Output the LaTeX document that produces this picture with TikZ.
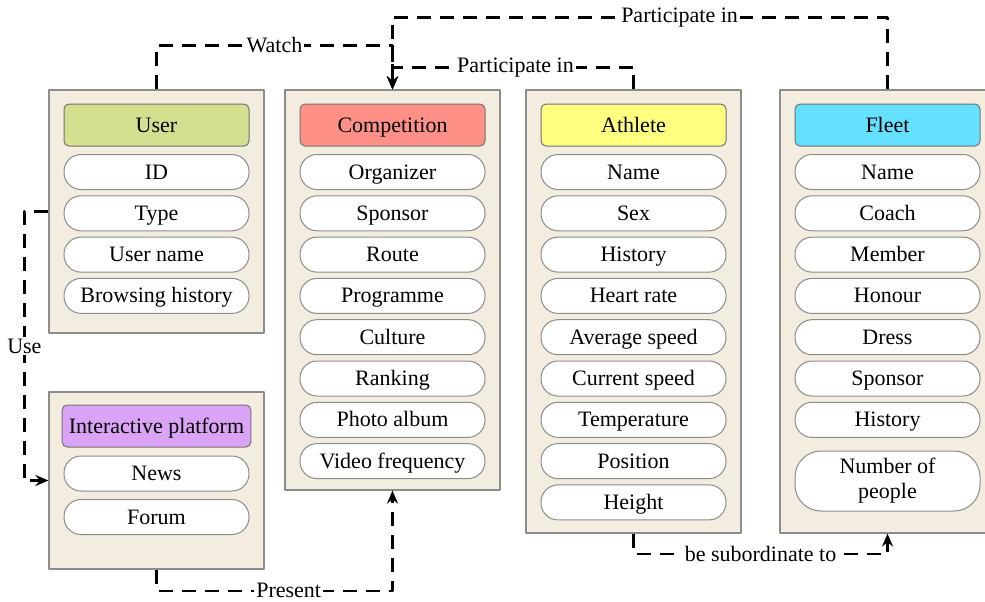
\documentclass[tikz,border=0pt]{standalone}
\usepackage{fontspec}
\setmainfont{LiberationSerif}[Extension=.ttf,UprightFont=*-Regular,BoldFont=*-Bold]
\usetikzlibrary{arrows.meta}
\definecolor{panelbg}{RGB}{242,237,222}
\definecolor{usercol}{RGB}{212,224,143}
\definecolor{compcol}{RGB}{255,144,136}
\definecolor{athcol}{RGB}{255,255,128}
\definecolor{fleetcol}{RGB}{102,224,255}
\definecolor{platcol}{RGB}{218,163,245}
\newcommand{\txt}{\fontsize{11}{12.5}\selectfont}
\begin{document}
\begin{tikzpicture}[x=0.5pt,y=-0.5pt,line join=round,>={Stealth[length=6.5pt,width=5.5pt,inset=2.2pt]},
	panel/.style={draw=black!45,fill=panelbg,line width=0.6pt,minimum width=107.5pt},
	head/.style={draw=black!55,rounded corners=2.5pt,line width=0.5pt,minimum width=92.5pt,minimum height=21pt,font=\txt,text height=8pt,text depth=1pt},
	item/.style={draw=black!45,fill=white,line width=0.5pt,rounded corners=8.5pt,minimum width=92.5pt,minimum height=17.5pt,font=\txt,text height=8pt,text depth=1pt},
	link/.style={line width=1.1pt,dash pattern=on 7pt off 4.5pt},
	lbl/.style={fill=white,inner sep=1pt,font=\txt}]
	\useasboundingbox (0,0) rectangle (985,601);
	%Các khung lớn
	\node[panel,minimum height=121.5pt] (user) at (156.5,211.5) {};
	\node[panel,minimum height=88.5pt] (plat) at (156.5,480.5) {};
	\node[panel,minimum height=200pt] (comp) at (392.5,290) {};
	\node[panel,minimum height=221.5pt] (ath) at (633.5,311.5) {};
	\node[panel,minimum height=221.5pt] (fleet) at (887.5,311.5) {};
	%Tiêu đề
	\node[head,fill=usercol] (user-h) at (156.5,125) {User};
	\node[head,fill=platcol] (plat-h) at (156.5,426) {Interactive platform};
	\node[head,fill=compcol] (comp-h) at (392.5,125) {Competition};
	\node[head,fill=athcol] (ath-h) at (633.5,125) {Athlete};
	\node[head,fill=fleetcol] (fleet-h) at (887.5,125) {Fleet};
	%Các thuộc tính
	\foreach \t [count=\i] in {ID,Type,User name,Browsing history}
		\node[item] (user-\i) at (156.5,{172+41.3*(\i-1)}) {\t};
	\foreach \t [count=\i] in {News,Forum}
		\node[item] (plat-\i) at (156.5,{473.5+43.5*(\i-1)}) {\t};
	\foreach \t [count=\i] in {Organizer,Sponsor,Route,Programme,Culture,Ranking,Photo album,Video frequency}
		\node[item] (comp-\i) at (392.5,{172+41.3*(\i-1)}) {\t};
	\foreach \t [count=\i] in {Name,Sex,History,Heart rate,Average speed,Current speed,Temperature,Position,Height}
		\node[item] (ath-\i) at (633.5,{172+41.3*(\i-1)}) {\t};
	\foreach \t [count=\i] in {Name,Coach,Member,Honour,Dress,Sponsor,History}
		\node[item] (fleet-\i) at (887.5,{172+41.3*(\i-1)}) {\t};
	\node[item,minimum height=30pt,rounded corners=13pt,align=center,text height=,text depth=] (fleet-8) at (887.5,481) {Number of\\people};
	%Các quan hệ
	\draw[link,->] (user.north) -- ++(0,-44) -| node[lbl,pos=0.25]{Watch} (comp.north);
	\draw[link,->] (fleet.north) -- ++(0,-72) -| node[lbl,pos=0.21]{Participate in} (comp.north);
	\draw[link,->] (ath.north) -- ++(0,-22) -| node[lbl,pos=0.245]{Participate in} (comp.north);
	\draw[link,->] (user.west) -- ++(-24,0) |- node[lbl,pos=0.25]{Use} (plat.west);
	\draw[link,->] (plat.south) -- ++(0,21) -| node[lbl,pos=0.28]{Present} (comp.south);
	\draw[link,->] (ath.south) -- ++(0,20) -| node[lbl,pos=0.25]{be subordinate to} (fleet.south);
\end{tikzpicture}
\end{document}
